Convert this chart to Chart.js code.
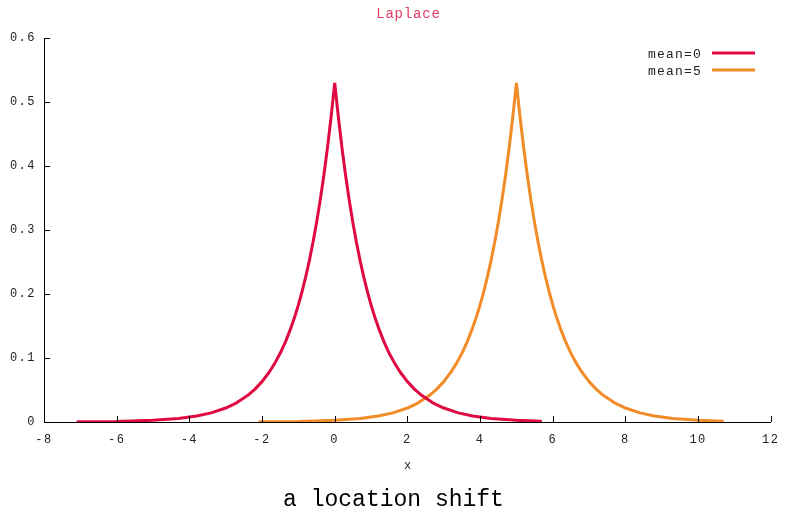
<!DOCTYPE html>
<html>
<head>
<meta charset="utf-8">
<script src="https://cdn.jsdelivr.net/npm/chart.js@4.4.1/dist/chart.umd.min.js"></script>
<style>
  html, body { margin: 0; padding: 0; background: #ffffff; }
  canvas { display: block; }
</style>
</head>
<body>
<canvas id="c" width="789" height="512"></canvas>
<script>
// ---- data ----
const chartTitle = "Laplace";
const xAxisTitle = "x";
const caption = "a location shift";
const seriesLabels = ["mean=0", "mean=5"];

const redX = [-7.1, -6, -5, -4.3, -3.8, -3.4, -3, -2.7, -2.4, -2.2, -2, -1.8, -1.65, -1.5, -1.35, -1.2, -1.1, -1,
              -0.9, -0.8, -0.7, -0.6, -0.5, -0.4, -0.3, -0.2, -0.1, 0,
              0.1, 0.2, 0.3, 0.4, 0.5, 0.6, 0.7, 0.8, 0.9,
              1, 1.1, 1.2, 1.35, 1.5, 1.65, 1.8, 2, 2.2, 2.4, 2.7, 3, 3.4, 3.8, 4.3, 5, 5.7];
const redY = [0.0003, 0.0009, 0.0026, 0.0055, 0.0093, 0.0143, 0.0218, 0.0300, 0.0413, 0.0510, 0.0631, 0.0781, 0.0916, 0.1074, 0.1260, 0.1479, 0.1645, 0.1830,
              0.2035, 0.2263, 0.2517, 0.2800, 0.3114, 0.3463, 0.3852, 0.4284, 0.4765, 0.5300,
              0.4765, 0.4284, 0.3852, 0.3463, 0.3114, 0.2800, 0.2517, 0.2263, 0.2035,
              0.1830, 0.1645, 0.1479, 0.1260, 0.1074, 0.0916, 0.0781, 0.0631, 0.0510, 0.0413, 0.0300, 0.0218, 0.0143, 0.0093, 0.0055, 0.0026, 0.0012];

const orangeX = [-2.1, -1, 0, 0.7, 1.2, 1.6, 2, 2.3, 2.6, 2.8, 3, 3.2, 3.35, 3.5, 3.65, 3.8, 3.9, 4,
                 4.1, 4.2, 4.3, 4.4, 4.5, 4.6, 4.7, 4.8, 4.9, 5,
                 5.1, 5.2, 5.3, 5.4, 5.5, 5.6, 5.7, 5.8, 5.9,
                 6, 6.1, 6.2, 6.35, 6.5, 6.65, 6.8, 7, 7.2, 7.4, 7.7, 8, 8.4, 8.8, 9.3, 10, 10.7];
const orangeY = [0.0003, 0.0009, 0.0026, 0.0055, 0.0093, 0.0143, 0.0218, 0.0300, 0.0413, 0.0510, 0.0631, 0.0781, 0.0916, 0.1074, 0.1260, 0.1479, 0.1645, 0.1830,
                 0.2035, 0.2263, 0.2517, 0.2800, 0.3114, 0.3463, 0.3852, 0.4284, 0.4765, 0.5300,
                 0.4765, 0.4284, 0.3852, 0.3463, 0.3114, 0.2800, 0.2517, 0.2263, 0.2035,
                 0.1830, 0.1645, 0.1479, 0.1260, 0.1074, 0.0916, 0.0781, 0.0631, 0.0510, 0.0413, 0.0300, 0.0218, 0.0143, 0.0093, 0.0055, 0.0026, 0.0012];

const xTicks = [-8, -6, -4, -2, 0, 2, 4, 6, 8, 10, 12];
const yTicks = [0, 0.1, 0.2, 0.3, 0.4, 0.5, 0.6];

// ---- styling ----
const RED = '#df0a42';
const ORANGE = '#f28c28';
const FONT = "'Liberation Mono', 'Courier New', monospace";

function toPoints(xs, ys) { return xs.map((x, i) => ({ x: x, y: ys[i] })); }

const decor = {
  id: 'decor',
  beforeDraw(chart) {
    chart.ctx.letterSpacing = '1.5px';
  },
  afterDraw(chart) {
    const ctx = chart.ctx;
    const a = chart.chartArea;
    const xs = chart.scales.x, ys = chart.scales.y;
    ctx.save();
    // inward tick marks
    ctx.strokeStyle = '#000';
    ctx.lineWidth = 1;
    ctx.beginPath();
    xTicks.forEach(v => {
      const px = Math.round(xs.getPixelForValue(v)) + 0.5;
      ctx.moveTo(px, a.bottom);
      ctx.lineTo(px, a.bottom - 6);
    });
    yTicks.forEach(v => {
      const py = Math.round(ys.getPixelForValue(v)) + 0.5;
      ctx.moveTo(a.left, py);
      ctx.lineTo(a.left + 6, py);
    });
    ctx.stroke();

    // title
    ctx.letterSpacing = '0.8px';
    ctx.fillStyle = '#e23c64';
    ctx.font = "14px " + FONT;
    ctx.textAlign = 'center';
    ctx.textBaseline = 'middle';
    ctx.fillText(chartTitle, (a.left + a.right) / 2 + 1, 14);

    // x axis title
    ctx.letterSpacing = '1.5px';
    ctx.fillStyle = '#222';
    ctx.font = "12px " + FONT;
    ctx.fillText(xAxisTitle, (a.left + a.right) / 2 + 1, 466);

    // caption
    ctx.letterSpacing = '0px';
    ctx.fillStyle = '#000';
    ctx.font = "23px " + FONT;
    ctx.fillText(caption, chart.width / 2 - 1, 500);

    // legend
    ctx.letterSpacing = '1.2px';
    ctx.font = "13px " + FONT;
    ctx.textAlign = 'right';
    chart.data.datasets.forEach((ds, i) => {
      const y = 54 + i * 17;
      ctx.fillStyle = '#222';
      ctx.fillText(ds.label, 702, y + 1);
      ctx.strokeStyle = ds.borderColor;
      ctx.lineWidth = 3;
      ctx.beginPath();
      ctx.moveTo(712, y - 1);
      ctx.lineTo(755, y - 1);
      ctx.stroke();
    });
    ctx.restore();
    ctx.letterSpacing = '0px';
  }
};

new Chart(document.getElementById('c'), {
  type: 'line',
  data: {
    datasets: [
      { label: seriesLabels[0], data: toPoints(redX, redY), borderColor: RED, borderWidth: 3,
        pointRadius: 0, fill: false, tension: 0, borderJoinStyle: 'bevel' },
      { label: seriesLabels[1], data: toPoints(orangeX, orangeY), borderColor: ORANGE, borderWidth: 3,
        pointRadius: 0, fill: false, tension: 0, borderJoinStyle: 'bevel' }
    ]
  },
  options: {
    responsive: false,
    animation: false,
    devicePixelRatio: 1,
    layout: { padding: { top: 38, right: 16, left: 0, bottom: 0 } },
    plugins: { legend: { display: false }, title: { display: false }, tooltip: { enabled: false } },
    scales: {
      x: {
        type: 'linear', min: -8, max: 12,
        afterFit(s) { s.height = 90; },
        afterBuildTicks(s) { s.ticks = xTicks.map(v => ({ value: v })); },
        grid: { display: false, drawTicks: false },
        border: { display: true, color: '#000', width: 1 },
        ticks: { color: '#222', font: { family: FONT, size: 12 }, padding: 11, maxRotation: 0,
                 callback: v => String(v) }
      },
      y: {
        type: 'linear', min: 0, max: 0.6,
        afterFit(s) { s.width = 44; },
        afterBuildTicks(s) { s.ticks = yTicks.map(v => ({ value: v })); },
        grid: { display: false, drawTicks: false },
        border: { display: true, color: '#000', width: 1 },
        ticks: { color: '#222', font: { family: FONT, size: 12 }, padding: 8,
                 callback: v => String(Number(v.toFixed(1))) }
      }
    }
  },
  plugins: [decor]
});
</script>
</body>
</html>
